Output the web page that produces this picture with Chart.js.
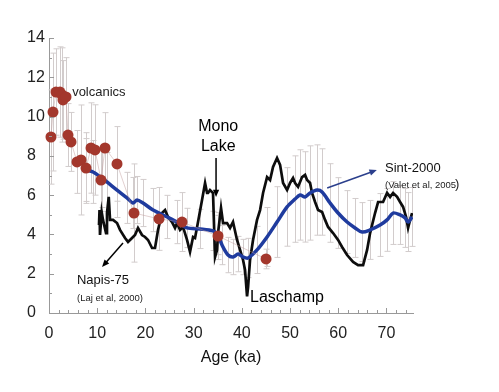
<!DOCTYPE html>
<html>
<head>
<meta charset="utf-8">
<script src="https://cdn.jsdelivr.net/npm/chart.js@4.4.0/dist/chart.umd.min.js"></script>
<style>
  html, body { margin: 0; padding: 0; background: #fff; }
  #wrap { width: 499px; height: 392px; }
</style>
</head>
<body>
<div id="wrap"><canvas id="paleoChart"></canvas></div>
<script>
// volcanic data points (age ka, intensity, error half-width)
const volcAge = [0.41, 0.83, 1.45, 2.28, 2.70, 2.90, 3.53, 3.94, 4.56, 5.81, 6.64,
                 7.68, 8.71, 9.54, 10.79, 11.62, 14.11, 17.63, 22.82, 27.59, 35.06, 45.02];
const volcVal = [8.96, 10.23, 11.25, 11.25, 11.10, 10.85, 11.00, 9.06, 8.71, 7.69, 7.79,
                 7.38, 8.40, 8.30, 6.77, 8.40, 7.59, 5.09, 4.79, 4.63, 3.92, 2.75];
const volcErr = [2.4, 3.0, 2.2, 2.3, 2.4, 2.0, 2.0, 1.6, 1.5, 1.6, 2.8,
                 1.8, 2.3, 2.3, 1.6, 1.8, 1.9, 2.5, 1.6, 1.5, 1.2, 0.5];

// Sint-2000 stack
const sintAge = [7.68, 9.13, 11.00, 12.03, 14.11, 16.18, 17.43, 18.26, 19.50, 21.58,
                 24.48, 26.56, 28.63, 31.33, 34.02, 35.06, 35.89, 37.14, 38.17, 39.21,
                 40.25, 41.29, 43.15, 45.23, 47.30, 49.38, 51.04, 52.07, 53.11, 54.15,
                 55.60, 56.64, 58.30, 59.96, 61.83, 63.49, 64.94, 66.60, 68.67, 70.12,
                 71.37, 72.82, 73.86, 74.48, 75.31];
const sintVal = [7.28, 7.18, 6.87, 6.67, 6.26, 5.86, 5.60, 5.75, 5.60, 5.24,
                 4.89, 4.63, 4.33, 4.28, 4.18, 3.97, 3.46, 2.95, 2.85, 3.00,
                 2.85, 2.80, 3.21, 3.87, 4.63, 5.40, 5.80, 6.01, 5.91, 6.11,
                 6.26, 6.16, 5.60, 5.09, 4.63, 4.33, 4.12, 4.23, 4.48, 4.74,
                 5.09, 4.99, 4.84, 4.63, 4.89];
const sintErr = [1.6, 1.6, 1.5, 1.5, 1.4, 1.3, 1.3, 1.2, 1.2, 1.1,
                 1.1, 1.1, 1.0, 1.0, 1.0, 1.0, 1.0, 0.9, 0.9, 0.9,
                 0.9, 1.0, 1.2, 1.5, 1.8, 2.0, 2.2, 2.3, 2.3, 2.4,
                 2.3, 2.2, 2.0, 1.8, 1.6, 1.5, 1.5, 1.5, 1.6, 1.6,
                 1.6, 1.5, 1.5, 1.5, 1.5];

// Napis-75 / Mono Lake / Laschamp record
const napisAge = [10.37, 10.48, 10.58, 10.93, 11.20, 11.83, 12.03, 12.39, 12.66, 13.28,
                  14.11, 14.73, 15.77, 16.39, 17.22, 17.84, 18.46, 19.29, 19.92, 20.54,
                  21.37, 21.99, 22.61, 23.44, 24.07, 24.69, 25.52, 26.14, 26.56, 27.18,
                  27.80, 28.63, 29.25, 29.88, 30.29, 30.91, 31.74, 32.37, 32.78, 32.99,
                  33.40, 34.02, 34.44, 34.85, 35.06, 35.68, 36.10, 36.93, 37.55, 38.17,
                  39.00, 39.63, 40.25, 40.66, 41.08, 41.29, 41.70, 42.32, 43.15, 43.78,
                  44.40, 45.23, 45.85, 46.47, 47.30, 47.93, 48.55, 49.38, 50.00, 50.62,
                  51.04, 51.66, 52.49, 53.11, 53.53, 54.15, 54.56, 55.19, 55.81, 56.64,
                  57.26, 57.88, 58.92, 59.96, 60.79, 61.83, 63.07, 64.11, 65.15, 65.98,
                  66.60, 67.63, 68.26, 69.29, 70.12, 70.75, 71.37, 72.20, 72.82, 73.44,
                  74.07, 74.48, 74.90, 75.31];
const napisVal = [4.48, 5.24, 3.97, 5.14, 4.74, 4.07, 5.09, 5.91, 4.74, 4.74,
                  4.58, 4.23, 3.82, 3.62, 3.82, 3.97, 4.33, 3.97, 3.87, 3.72,
                  3.31, 3.31, 4.23, 5.09, 5.24, 4.89, 4.63, 4.33, 4.58, 4.23,
                  4.38, 3.72, 3.11, 3.87, 3.82, 4.63, 5.75, 6.62, 6.11, 6.11,
                  6.26, 6.11, 2.85, 3.21, 4.07, 5.35, 4.58, 4.58, 4.33, 4.63,
                  3.72, 3.21, 2.70, 2.19, 0.85, 1.32, 2.70, 3.72, 4.74, 5.24,
                  6.11, 6.92, 6.77, 7.43, 7.89, 7.54, 6.62, 6.26, 6.62, 6.87,
                  6.62, 6.42, 6.92, 7.03, 6.77, 6.62, 6.11, 5.65, 5.24, 5.14,
                  4.74, 4.38, 4.07, 3.72, 3.36, 2.95, 2.60, 2.44, 2.44, 3.21,
                  4.07, 5.09, 5.65, 5.65, 6.11, 5.91, 6.11, 5.91, 5.65, 5.40,
                  4.89, 4.33, 4.74, 5.09];

const xTicks = [0, 10, 20, 30, 40, 50, 60, 70];
const yTicks = [0, 2, 4, 6, 8, 10, 12, 14];

const toPoints = (ages, vals) => ages.map((a, i) => ({ x: a, y: vals[i] }));

// annotations in data coordinates
const notes = [
    { text: 'volcanics', x: 4.8, y: 11.25, size: 13, color: '#222' },
    { text: 'Mono', x: 35.1, y: 9.47, size: 16, color: '#000', align: 'center' },
    { text: 'Lake', x: 35.1, y: 8.45, size: 16, color: '#000', align: 'center' },
    { text: 'Sint-2000', x: 69.7, y: 7.38, size: 13, color: '#111' },
    { text: '(Valet et al, 2005', x: 69.7, y: 6.5, size: 9.5, color: '#222' },
    { text: ')', x: 84.2, y: 6.55, size: 13, color: '#222' },
    { text: 'Napis-75', x: 5.8, y: 1.68, size: 13, color: '#111' },
    { text: '(Laj et al, 2000)', x: 5.8, y: 0.76, size: 9.5, color: '#222' },
    { text: 'Laschamp', x: 41.7, y: 0.78, size: 16, color: '#000' }
];
const arrows = [
    { from: [34.65, 7.89], to: [34.65, 5.9], color: '#000' },
    { from: [57.7, 6.36], to: [68.0, 7.28], color: '#2b3f8c' },
    { from: [15.35, 3.56], to: [11.0, 2.34], color: '#000' }
];

const errorBars = {
    id: 'errorBars',
    beforeDatasetsDraw(chart) {
        const { ctx, scales: { x, y } } = chart;
        ctx.save();
        ctx.strokeStyle = '#d2cccc';
        ctx.lineWidth = 1;
        const draw = (ages, vals, errs) => {
            ages.forEach((a, i) => {
                const px = Math.round(x.getPixelForValue(a)) + 0.5;
                const top = y.getPixelForValue(vals[i] + errs[i]);
                const bot = y.getPixelForValue(vals[i] - errs[i]);
                ctx.beginPath();
                ctx.moveTo(px, top); ctx.lineTo(px, bot);
                ctx.moveTo(px - 3, top); ctx.lineTo(px + 3, top);
                ctx.moveTo(px - 3, bot); ctx.lineTo(px + 3, bot);
                ctx.stroke();
            });
        };
        draw(sintAge, sintVal, sintErr);
        draw(volcAge, volcVal, volcErr);
        ctx.restore();
    }
};

const innerTicks = {
    id: 'innerTicks',
    afterDraw(chart) {
        const { ctx, chartArea, scales: { x, y } } = chart;
        ctx.save();
        ctx.strokeStyle = '#999';
        ctx.lineWidth = 1;
        ctx.beginPath();
        for (let v = 0; v <= 75; v += 2) {
            const px = Math.round(x.getPixelForValue(v)) + 0.5;
            const len = v % 10 === 0 ? 5 : 3;
            ctx.moveTo(px, chartArea.bottom);
            ctx.lineTo(px, chartArea.bottom - len);
        }
        for (let v = 0; v <= 14; v += 1) {
            const py = Math.round(y.getPixelForValue(v)) + 0.5;
            const len = v % 2 === 0 ? 5 : 3;
            ctx.moveTo(chartArea.left, py);
            ctx.lineTo(chartArea.left + len, py);
        }
        ctx.stroke();
        ctx.restore();
    }
};

const labels = {
    id: 'labels',
    afterDatasetsDraw(chart) {
        const { ctx, scales: { x, y } } = chart;
        ctx.save();
        notes.forEach(n => {
            ctx.font = `${n.size}px "Liberation Sans", Arial, sans-serif`;
            ctx.fillStyle = n.color;
            ctx.textAlign = n.align || 'left';
            ctx.textBaseline = 'middle';
            ctx.fillText(n.text, x.getPixelForValue(n.x), y.getPixelForValue(n.y));
        });
        arrows.forEach(a => {
            const x1 = x.getPixelForValue(a.from[0]), y1 = y.getPixelForValue(a.from[1]);
            const x2 = x.getPixelForValue(a.to[0]), y2 = y.getPixelForValue(a.to[1]);
            const ang = Math.atan2(y2 - y1, x2 - x1);
            ctx.strokeStyle = a.color;
            ctx.fillStyle = a.color;
            ctx.lineWidth = 1.5;
            ctx.beginPath();
            ctx.moveTo(x1, y1);
            ctx.lineTo(x2 - 5 * Math.cos(ang), y2 - 5 * Math.sin(ang));
            ctx.stroke();
            ctx.beginPath();
            ctx.moveTo(x2, y2);
            ctx.lineTo(x2 - 8 * Math.cos(ang - 0.4), y2 - 8 * Math.sin(ang - 0.4));
            ctx.lineTo(x2 - 8 * Math.cos(ang + 0.4), y2 - 8 * Math.sin(ang + 0.4));
            ctx.closePath();
            ctx.fill();
        });
        ctx.restore();
    }
};

Chart.defaults.font.family = '"Liberation Sans", Arial, sans-serif';

const ctx = document.getElementById('paleoChart').getContext('2d');
new Chart(ctx, {
    type: 'scatter',
    data: {
        datasets: [
            {
                label: 'volcanics',
                data: toPoints(volcAge, volcVal),
                showLine: true,
                clip: false,
                borderColor: 'rgba(190, 150, 150, 0.45)',
                borderWidth: 1,
                pointRadius: 5.5,
                pointBackgroundColor: '#a3372c',
                pointBorderWidth: 0
            },
            {
                label: 'Sint-2000',
                data: toPoints(sintAge, sintVal),
                showLine: true,
                borderColor: '#1f3b9e',
                borderWidth: 3.5,
                pointRadius: 0,
                tension: 0.3
            },
            {
                label: 'Napis-75',
                data: toPoints(napisAge, napisVal),
                showLine: true,
                borderColor: '#0d0d0d',
                borderWidth: 2.7,
                pointRadius: 0,
                tension: 0
            }
        ]
    },
    options: {
        responsive: true,
        maintainAspectRatio: false,
        animation: false,
        layout: { padding: { left: 27, top: 38, right: 86, bottom: 0 } },
        plugins: {
            legend: { display: false },
            tooltip: { enabled: false }
        },
        scales: {
            x: {
                type: 'linear',
                min: 0,
                max: 75.5,
                afterBuildTicks: scale => { scale.ticks = xTicks.map(v => ({ value: v })); },
                afterFit: scale => { scale.height = 79; },
                grid: { display: false, drawTicks: false },
                border: { display: true, color: '#999', width: 1 },
                ticks: { color: '#222', font: { size: 16 }, padding: 11, maxRotation: 0 },
                title: {
                    display: true,
                    text: 'Age (ka)',
                    color: '#111',
                    font: { size: 16 },
                    padding: { top: 0, bottom: 25 }
                }
            },
            y: {
                min: 0,
                max: 14,
                afterBuildTicks: scale => { scale.ticks = yTicks.map(v => ({ value: v })); },
                afterFit: scale => { scale.width = 22; },
                grid: { display: false, drawTicks: false },
                border: { display: true, color: '#999', width: 1 },
                ticks: { color: '#222', font: { size: 16 }, crossAlign: 'far', padding: 4 }
            }
        }
    },
    plugins: [errorBars, labels, innerTicks]
});
</script>
</body>
</html>
